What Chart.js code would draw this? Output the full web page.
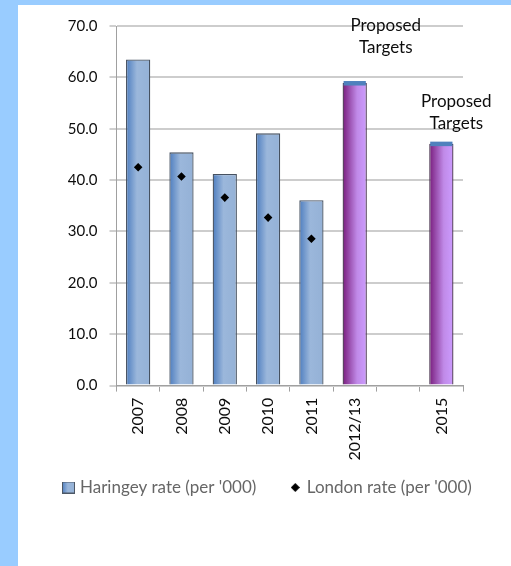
<!DOCTYPE html>
<html>
<head>
<meta charset="utf-8">
<script src="https://cdn.jsdelivr.net/npm/chart.js@4.4.1/dist/chart.umd.min.js"></script>
<style>
  html, body { margin: 0; padding: 0; }
  body { width: 511px; height: 566px; background: #99ccff; position: relative; overflow: hidden; }
  #panel { position: absolute; left: 18px; top: 5px; width: 493px; height: 561px; background: #fff; }
</style>
</head>
<body>
<div id="panel"><canvas id="rateChart" width="493" height="561"></canvas></div>
<script>
// data
const years = ['2007', '2008', '2009', '2010', '2011', '2012/13', '', '2015'];
const haringeyRate = [63.5, 45.4, 41.2, 49.1, 36.1, null, null, null];
const proposedTargets = [null, null, null, null, null, 58.9, null, 47.1];
const londonRate = [42.5, 40.7, 36.6, 32.7, 28.6, null, null, null];
const yTicks = [0, 10, 20, 30, 40, 50, 60, 70];

const FONT = 'Lato';
const TEXT = '#0d0d0d';
const BAR_PCT = 0.56;

function barGradient(ctx, stops) {
    const chart = ctx.chart;
    const x = chart.scales.x;
    if (!x || !chart.chartArea) return stops[stops.length - 1][1];
    const cx = x.getPixelForValue(ctx.dataIndex);
    const w = (x.width / years.length) * BAR_PCT;
    const g = chart.ctx.createLinearGradient(cx - w / 2, 0, cx + w / 2, 0);
    stops.forEach(s => g.addColorStop(s[0], s[1]));
    return g;
}

const blueStops = [[0, '#4d7dbf'], [0.45, '#9bb7db'], [1, '#94b1d6']];
const purpleStops = [[0, '#781c7c'], [0.6, '#c08ae8'], [1, '#cc9cff']];

// legend symbols
function legendSquare() {
    const c = document.createElement('canvas');
    c.width = 13; c.height = 12;
    const g = c.getContext('2d');
    const gr = g.createLinearGradient(0, 0, 13, 0);
    blueStops.forEach(s => gr.addColorStop(s[0], s[1]));
    g.fillStyle = gr;
    g.fillRect(0, 0, 13, 12);
    g.strokeStyle = '#4d5866';
    g.lineWidth = 1;
    g.strokeRect(0.5, 0.5, 12, 11);
    return c;
}
function legendDiamond() {
    const c = document.createElement('canvas');
    c.width = 9; c.height = 9;
    const g = c.getContext('2d');
    g.fillStyle = '#000';
    g.beginPath();
    g.moveTo(4.5, 0); g.lineTo(9, 4.5); g.lineTo(4.5, 9); g.lineTo(0, 4.5);
    g.closePath();
    g.fill();
    return c;
}

// blue cap on top of the target bars + "Proposed Targets" labels
const targetLabelOffsets = { 5: { dx: 31, dy: 58 }, 7: { dx: 15, dy: 42 } };
const targetExtras = {
    id: 'targetExtras',
    afterDatasetsDraw(chart) {
        const meta = chart.getDatasetMeta(1);
        const c = chart.ctx;
        c.save();
        meta.data.forEach((el, i) => {
            if (proposedTargets[i] == null) return;
            const w = el.width;
            c.fillStyle = '#4f81bd';
            c.fillRect(el.x - w / 2 + 1, el.y - 2, w - 2, 4.5);
            const off = targetLabelOffsets[i];
            if (!off) return;
            c.fillStyle = TEXT;
            c.font = '17px ' + FONT;
            c.textAlign = 'center';
            c.textBaseline = 'middle';
            c.fillText('Proposed', el.x + off.dx, el.y - off.dy);
            c.fillText('Targets', el.x + off.dx, el.y - off.dy + 22);
        });
        c.restore();
    }
};

const chart = new Chart(document.getElementById('rateChart'), {
    data: {
        labels: years,
        datasets: [{
            type: 'bar',
            label: "Haringey rate (per '000)",
            data: haringeyRate,
            stack: 'rates',
            backgroundColor: ctx => barGradient(ctx, blueStops),
            borderColor: '#465160',
            borderWidth: 1.3,
            barPercentage: BAR_PCT,
            categoryPercentage: 1,
            order: 2
        }, {
            type: 'bar',
            label: 'Proposed Targets',
            data: proposedTargets,
            stack: 'rates',
            backgroundColor: ctx => barGradient(ctx, purpleStops),
            borderColor: '#45304c',
            borderWidth: 1.3,
            barPercentage: BAR_PCT,
            categoryPercentage: 1,
            order: 2
        }, {
            type: 'line',
            label: "London rate (per '000)",
            data: londonRate,
            showLine: false,
            pointStyle: 'rectRot',
            pointRadius: 4.3,
            pointBorderWidth: 0,
            pointBackgroundColor: '#000',
            pointBorderColor: '#000',
            order: 1
        }]
    },
    options: {
        responsive: false,
        animation: false,
        layout: { padding: { left: 11.5, right: 0, top: 12, bottom: 60 } },
        scales: {
            x: {
                stacked: true,
                grid: { offset: true, drawOnChartArea: false, color: '#a0a0a0', tickLength: 6 },
                border: { color: '#a0a0a0' },
                ticks: {
                    autoSkip: false, minRotation: 90, maxRotation: 90, padding: 6,
                    color: TEXT, font: { family: FONT, size: 16 }
                },
                afterFit: s => { s.height = 76; }
            },
            y: {
                stacked: true,
                min: 0, max: 70,
                afterBuildTicks: s => { s.ticks = yTicks.map(v => ({ value: v })); },
                grid: { color: '#cdcdcd', lineWidth: 2, tickColor: '#a0a0a0', tickWidth: 1, tickLength: 7 },
                border: { color: '#a0a0a0', width: 1 },
                ticks: {
                    padding: 12, color: TEXT, font: { family: FONT, size: 15 },
                    callback: v => v.toFixed(1)
                },
                afterFit: s => { s.width = 87; }
            },
            yRight: {
                position: 'right',
                display: true,
                grid: { display: false },
                border: { display: false },
                ticks: { display: false },
                afterFit: s => { s.width = 48; }
            }
        },
        plugins: {
            tooltip: { enabled: false },
            legend: {
                position: 'bottom',
                align: 'start',
                // empty title with negative padding pulls the row up under the rotated labels
                title: { display: true, text: '', font: { size: 12 }, padding: { top: -33, bottom: 0 } },
                labels: {
                    usePointStyle: true,
                    boxWidth: 6,
                    padding: 36,
                    color: TEXT,
                    font: { family: FONT, size: 17 },
                    generateLabels: () => [
                        { text: "Haringey rate (per '000)", pointStyle: legendSquare(), datasetIndex: 0 },
                        { text: "London rate (per '000)", pointStyle: legendDiamond(), datasetIndex: 2 }
                    ]
                }
            }
        }
    },
    plugins: [targetExtras]
});
</script>
</body>
</html>
